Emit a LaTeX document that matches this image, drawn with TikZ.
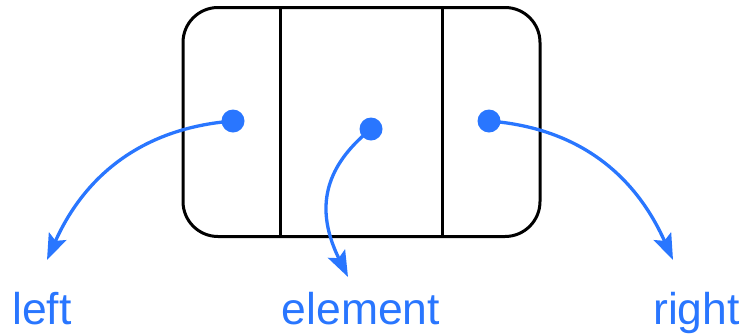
\documentclass[tikz,border=0pt]{standalone}
\usepackage{fontspec}
\setmainfont{Liberation Sans}
\usetikzlibrary{arrows.meta}
\definecolor{ptrblue}{RGB}{41,118,255}
\tikzset{
  cellbox/.style={draw=black, line width=3pt, rounded corners=35pt, minimum width=357pt, minimum height=229pt, inner sep=0pt},
  divider/.style={draw=black, line width=3pt},
  dot/.style={circle, fill=ptrblue, minimum size=23pt, inner sep=0pt},
  ptr/.style={draw=ptrblue, line width=3.3pt, -{Stealth[length=26pt, width=19pt, inset=5pt]}},
  lbl/.style={text=ptrblue, font=\fontsize{44.5}{50}\selectfont, inner sep=0pt}
}
\begin{document}
\begin{tikzpicture}[x=1pt, y=-1pt]
\useasboundingbox (0,0) rectangle (746,333);
\node[cellbox] (box) at (361.5,122) {};
\draw[divider] (280.7,7.5) -- (280.7,236.5);
\draw[divider] (442.7,7.5) -- (442.7,236.5);
\node[dot] (dl) at (233,121) {};
\node[dot] (dm) at (371,129) {};
\node[dot] (dr) at (489,121) {};
\coordinate (tl) at (47,260);
\coordinate (tm) at (348,277);
\coordinate (tr) at (673,260);
\draw[ptr] (dl.center) .. controls (143,128) and (85,175) .. (tl);
\draw[ptr] (dm.center) .. controls (333,160) and (310,200) .. (tm);
\draw[ptr] (dr.center) .. controls (579,128) and (635,175) .. (tr);
\node[lbl, anchor=base west] (ll) at (12,324) {left};
\node[lbl, anchor=base west] (lm) at (281.5,324) {element};
\node[lbl, anchor=base west] (lr) at (653,324) {right};
\end{tikzpicture}
\end{document}
